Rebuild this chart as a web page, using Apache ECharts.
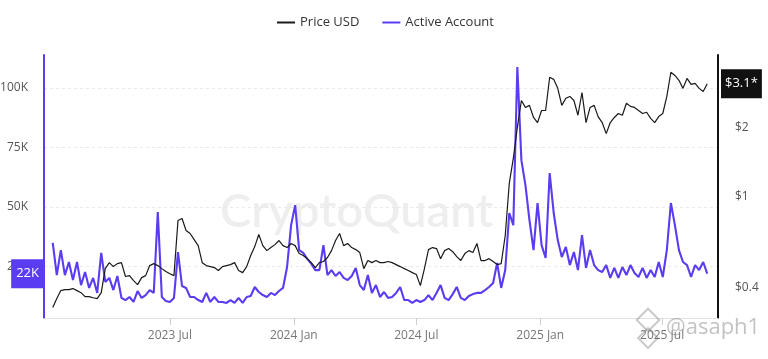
<!DOCTYPE html>
<html><head><meta charset="utf-8">
<script src="https://cdn.jsdelivr.net/npm/echarts@6/dist/echarts.min.js"></script>
<style>html,body{margin:0;padding:0;background:#fff}#c{width:768px;height:359px}</style>
</head><body><div id="c"></div>
<script>
// ---- data ----
const startDate = '2023-01-08';
const stepDays = 6;
const priceUSD = [
0.328,0.359,0.389,0.393,0.393,0.397,0.389,0.381,0.366,0.366,
0.362,0.359,0.381,0.485,0.515,0.495,0.510,0.515,0.448,0.452,
0.430,0.413,0.443,0.452,0.500,0.510,0.500,0.485,0.471,0.461,
0.452,0.786,0.802,0.711,0.690,0.649,0.611,0.515,0.500,0.495,
0.490,0.476,0.495,0.500,0.505,0.515,0.476,0.466,0.495,0.553,
0.605,0.683,0.611,0.581,0.599,0.617,0.643,0.611,0.599,0.624,
0.611,0.564,0.553,0.536,0.515,0.490,0.515,0.521,0.542,0.581,
0.643,0.690,0.611,0.624,0.599,0.587,0.570,0.485,0.526,0.515,
0.526,0.515,0.515,0.521,0.515,0.505,0.495,0.485,0.476,0.466,
0.457,0.409,0.485,0.587,0.599,0.593,0.536,0.581,0.593,0.575,
0.547,0.526,0.564,0.581,0.570,0.624,0.526,0.526,0.536,0.521,
0.505,0.510,0.676,1.14,1.465,2.0,2.62,2.445,2.495,2.21,
2.10,2.37,2.37,3.31,3.24,2.96,2.495,2.68,2.73,2.62,
2.26,2.84,2.10,2.445,2.495,2.23,2.10,1.88,2.10,2.21,
2.30,2.26,2.55,2.47,2.445,2.37,2.30,2.33,2.19,2.10,
2.23,2.30,2.73,3.48,3.37,3.21,2.96,3.27,3.08,3.11,
2.96,2.87,3.10
];
const activeAccount = [
34900,21400,31900,21400,26900,19300,26900,17200,22700,16000,
20200,13900,30700,18500,20200,15100,21000,11800,10900,12200,
10100,14700,11800,13000,15100,13900,47900,12200,10500,10100,
11800,31100,16800,16000,12200,12200,10900,10100,13900,10100,
12200,10100,10100,9700,10900,9700,11800,9700,12200,12600,
16400,14300,13000,12200,13900,13000,14700,16000,24800,42400,
50800,31900,30700,28200,26100,23500,23500,34000,21400,23500,
21000,22700,20200,19300,21000,24400,17200,15100,21400,13900,
17200,12200,14300,11800,12200,13900,16400,10900,10900,9700,
10900,10100,10900,13000,10900,13900,17200,11800,10900,13400,
16400,11800,10900,12600,13400,13900,13900,15100,16400,18100,
26500,16000,23500,47500,42400,108800,69700,59200,44500,31900,
51700,34000,28600,64300,47500,36100,29000,33200,25600,31100,
23500,38200,24400,31900,25600,23500,22700,25600,20200,24400,
20200,24800,21400,25600,22300,20600,24400,20200,23500,20600,
26900,20600,31900,51700,42400,31900,26900,25600,20600,25600,
23500,26900,22000
];
const xTickDates = ['2023-07-01','2024-01-01','2024-07-01','2025-01-01','2025-07-01'];
const xRange = ['2022-12-26','2025-09-22'];
const activeTicks = [25000,50000,75000,100000];
const activeRange = [3360,113900];
const priceTicks = [0.4,1,2];
const priceRange = [0.2955,4.137];
const lastActiveTag = 22000;
const lastPriceTag = 3.1;

// ---- helpers ----
const PURPLE = '#5a3cf2';
const MONTHS = ['Jan','Feb','Mar','Apr','May','Jun','Jul','Aug','Sep','Oct','Nov','Dec'];
function localTs(s, addDays){ const p = s.split('-').map(Number); return new Date(p[0], p[1]-1, p[2] + (addDays||0)).getTime(); }
const dates = priceUSD.map((_, i) => localTs(startDate, i*stepDays));
const xTicks = xTickDates.map(s => localTs(s));
const logTicks = priceTicks.map(v => Math.log10(v));
const FONT = 'Open Sans';

const chart = echarts.init(document.getElementById('c'), null, {renderer:'canvas'});
chart.setOption({
  animation: false,
  backgroundColor: '#fff',
  textStyle: { fontFamily: FONT },
  legend: {
    top: 11, left: 272, icon: 'rect', itemWidth: 18, itemHeight: 2, itemGap: 23,
    textStyle: { fontSize: 13, color: '#333', fontFamily: FONT },
    data: ['Price USD', 'Active Account']
  },
  grid: { left: 44, right: 50, top: 55, bottom: 41, containLabel: false, outerBoundsMode: 'none' },
  graphic: [
    { type:'text', z:0, left: 220, top: 188, style:{ text:'CryptoQuant', fontSize: 47, fontWeight: 600, fontFamily:'Lato', fill:'rgba(0,0,0,0.065)' } },
    { type:'text', z:100, left: 666, top: 317, style:{ text:'@asaph1', fontSize: 22, fontFamily:'Open Sans', fill:'rgba(120,120,120,0.45)' } },
    { type:'rect', z:100, x: 648, y: 320, rotation: Math.PI/4, shape:{x:-8,y:-8,width:16,height:16}, style:{ fill:'none', stroke:'rgba(120,120,120,0.4)', lineWidth:2 } },
    { type:'rect', z:100, x: 648, y: 338, rotation: Math.PI/4, shape:{x:-7,y:-7,width:14,height:14}, style:{ fill:'none', stroke:'rgba(120,120,120,0.4)', lineWidth:2 } }
  ],
  xAxis: {
    type: 'value', min: localTs(xRange[0]), max: localTs(xRange[1]),
    axisLine: { show: true, onZero: false, lineStyle: { color: '#e2e2e2', width: 1 } },
    axisTick: { show: true, customValues: xTicks, length: 7, lineStyle: { color: '#cfcfcf' } },
    axisLabel: { customValues: xTicks, color: '#777', fontSize: 12, margin: 12,
      formatter: v => { const d = new Date(v); return d.getFullYear() + ' ' + MONTHS[d.getMonth()]; } },
    splitLine: { show: false }
  },
  yAxis: [
    {
      type: 'value', position: 'left', min: activeRange[0], max: activeRange[1],
      axisLine: { show: true, onZero: false, lineStyle: { color: PURPLE, width: 2 } },
      axisTick: { show: false, customValues: activeTicks },
      axisLabel: { customValues: activeTicks, color: '#555', fontSize: 12, margin: 16, formatter: v => (v/1000) + 'K' },
      splitLine: { show: true, lineStyle: { color: '#e9e9e9', type: [3,3] } },
      axisPointer: { show: true, type: 'none', status: 'show', value: lastActiveTag,
        label: { show: true, formatter: (lastActiveTag/1000) + 'K', backgroundColor: PURPLE, color: '#fff', fontSize: 13, padding: [8,5], margin: 0, borderRadius: 0 } }
    },
    {
      type: 'log', logBase: 10, position: 'right', min: priceRange[0], max: priceRange[1],
      axisLine: { show: true, onZero: false, lineStyle: { color: '#111', width: 2 } },
      axisTick: { show: false }, axisLabel: { show: false }, splitLine: { show: false }
    },
    {
      type: 'value', position: 'right', min: Math.log10(priceRange[0]), max: Math.log10(priceRange[1]),
      axisLine: { show: false }, 
      axisTick: { show: false, customValues: logTicks },
      axisLabel: { customValues: logTicks, color: '#555', fontSize: 12, margin: 17,
        formatter: v => '$' + Number(Math.pow(10, v).toPrecision(2)) },
      splitLine: { show: false },
      axisPointer: { show: true, type: 'none', status: 'show', value: Math.log10(lastPriceTag),
        label: { show: true, formatter: '$' + lastPriceTag + '*', backgroundColor: '#111', color: '#fff', fontSize: 13, padding: [8,4], margin: 3, borderRadius: 0 } }
    }
  ],
  series: [
    { name: 'Active Account', type: 'line', yAxisIndex: 0, symbol: 'none', showSymbol: false, z: 3,
      data: dates.map((t, i) => [t, activeAccount[i]]),
      lineStyle: { color: PURPLE, width: 2.1 }, itemStyle: { color: PURPLE } },
    { name: 'Price USD', type: 'line', yAxisIndex: 1, symbol: 'none', showSymbol: false, z: 4,
      data: dates.map((t, i) => [t, priceUSD[i]]),
      lineStyle: { color: '#1a1a1a', width: 1.2 }, itemStyle: { color: '#1a1a1a' } }
  ]
});
</script>
</body></html>
